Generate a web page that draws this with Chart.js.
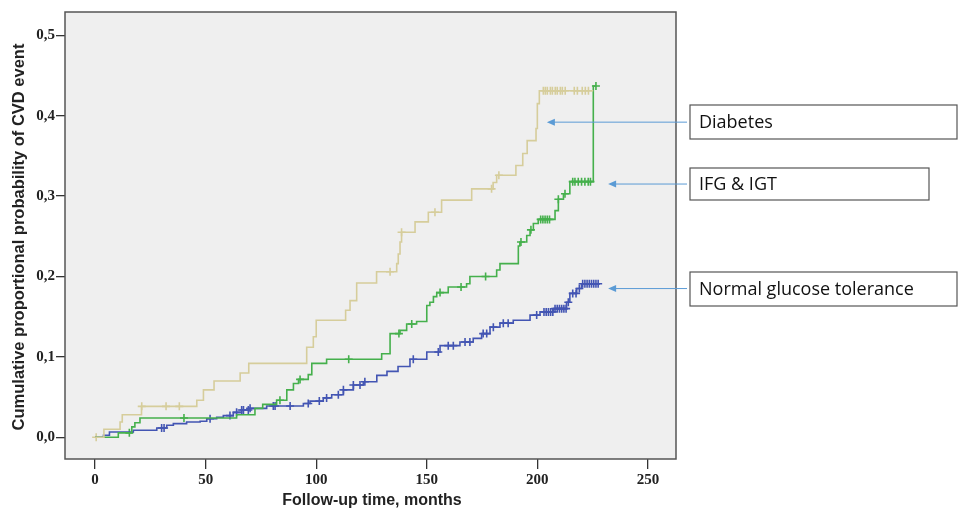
<!DOCTYPE html>
<html>
<head>
<meta charset="utf-8">
<script src="https://cdn.jsdelivr.net/npm/chart.js@4.4.1/dist/chart.umd.min.js"></script>
<style>
  html, body { margin: 0; padding: 0; background: #fff; }
  #wrap { width: 960px; height: 513px; position: relative; }
</style>
</head>
<body>
<div id="wrap"><canvas id="kmChart"></canvas></div>
<script>
// Kaplan-Meier style cumulative incidence
const xTicks = [0, 50, 100, 150, 200, 250];
const yTicks = [0, 0.1, 0.2, 0.3, 0.4, 0.5];

const diabTimes = [0, 4, 11.3, 12.3, 21, 46, 49, 53.8, 65.6, 69.5, 95.7, 98.7, 100, 113.3, 115.3, 118.3, 127.3,
  136.4, 137.1, 137.9, 138.6, 144.7, 150.7, 156.7, 170.3, 180, 181.6, 190.3, 193.4, 195.4, 199.4, 200, 200.9, 225.3];
const diabVals = [0, 0.010, 0.019, 0.028, 0.0385, 0.046, 0.059, 0.070, 0.080, 0.092, 0.112, 0.125, 0.1455, 0.158, 0.170, 0.192, 0.206,
  0.216, 0.228, 0.243, 0.255, 0.268, 0.280, 0.295, 0.309, 0.317, 0.326, 0.338, 0.353, 0.369, 0.384, 0.415, 0.431, 0.431];
const diabCensor = [0.5, 21.1, 32.1, 38.1, 133.4, 138.6, 153.7, 179.3, 182.6, 202.7, 203.6, 204.5, 205.9, 206.8, 208.1,
  209, 210.4, 211.3, 212.6, 216.7, 218.1, 220.3, 221.7, 223.1];

const ifgTimes = [0, 10.5, 16.6, 18, 20.3, 64, 72.3, 75.8, 82.1, 86.7, 89.7, 92, 96.4, 98, 104.7, 129.6, 133.4, 137.9,
  140.9, 145.4, 150, 151.4, 153, 154.5, 159.7, 168, 169.5, 181.6, 183.1, 191.4, 192.1, 195.2, 196.7, 198.2, 200.4,
  208, 209.5, 211.8, 214.7, 225.3, 226.5];
const ifgVals = [0, 0.0055, 0.013, 0.018, 0.024, 0.028, 0.036, 0.041, 0.046, 0.059, 0.067, 0.072, 0.078, 0.092, 0.097, 0.104, 0.129, 0.133,
  0.141, 0.144, 0.164, 0.168, 0.175, 0.180, 0.187, 0.191, 0.200, 0.208, 0.216, 0.238, 0.243, 0.251, 0.258, 0.266, 0.271,
  0.282, 0.296, 0.303, 0.318, 0.437, 0.437];
const ifgCensor = [15.5, 40.2, 83.6, 92.7, 114.7, 137.4, 143.2, 156, 165.5, 176.6, 192.6, 197.1, 201.5, 202.5, 203.5,
  204.5, 205.5, 209.5, 212.5, 216, 217, 218.5, 220, 221.5, 223, 224, 226.5];

const ngtTimes = [0, 3.8, 6.5, 17.3, 27.9, 32.4, 35.4, 41.4, 47.5, 50.5, 55, 58, 62.5, 66.3, 70, 77.6, 94.2, 97.2, 103.2,
  107, 112.3, 116.8, 121.3, 127.4, 132, 137, 142.4, 150, 156, 165, 171, 174.8, 178.6, 183.1, 189.1, 196.7, 201.2,
  207.2, 213.2, 214.7, 217.8, 220, 228.3];
const ngtVals = [0, 0.0025, 0.0066, 0.0087, 0.0116, 0.015, 0.017, 0.019, 0.020, 0.023, 0.025, 0.027, 0.031, 0.034, 0.036, 0.039, 0.042, 0.045, 0.049,
  0.053, 0.059, 0.065, 0.069, 0.077, 0.082, 0.088, 0.097, 0.106, 0.114, 0.1185, 0.123, 0.129, 0.137, 0.142, 0.1455, 0.152, 0.156,
  0.160, 0.168, 0.179, 0.185, 0.191, 0.191];
const ngtCensor = [30.1, 31.2, 52, 61, 64, 66.3, 67.1, 69.3, 70.1, 80.6, 81.4, 88.2, 96.4, 101.4, 104.7, 110, 112.3, 116.8,
  119.8, 122, 143.9, 155.2, 159.7, 162, 167.3, 169.5, 175.5, 177.1, 180.1, 184.6, 186.8, 199.7, 203, 204, 205, 206, 207,
  208, 209, 210, 211, 212, 213, 214, 216, 217.5, 219, 220.5, 221.5, 222.5, 223.5, 224.5, 225.5, 226.5, 227.5];

const groupLabels = ['Diabetes', 'IFG & IGT', 'Normal glucose tolerance'];
// arrow tips in data units (month, probability)
const arrowTips = [[204.3, 0.392], [232, 0.315], [232, 0.185]];

const colTan = '#d6cd9b', colGreen = '#45b04c', colBlue = '#4355b3';

function stepAt(times, vals, t) {
  let v = vals[0];
  for (let i = 0; i < times.length; i++) if (times[i] <= t) v = vals[i];
  return v;
}
function curve(times, vals) { return times.map((t, i) => ({ x: t, y: vals[i] })); }
function marks(times, vals, cens) { return cens.map(t => ({ x: t, y: stepAt(times, vals, t) })); }

function lineSet(data, color) {
  return { data, borderColor: color, borderWidth: 1.6, stepped: true, pointRadius: 0, fill: false };
}
function markSet(data, color) {
  return { data, showLine: false, pointStyle: 'cross', pointRadius: 4, borderColor: color, borderWidth: 1.6, pointHoverRadius: 4 };
}

const frameAndNotes = {
  id: 'frameAndNotes',
  beforeDatasetsDraw(chart) {
    const { ctx, chartArea: a } = chart;
    ctx.save();
    ctx.fillStyle = '#efefef';
    ctx.fillRect(a.left, a.top, a.right - a.left, a.bottom - a.top);
    ctx.restore();
  },
  afterDraw(chart) {
    const { ctx, chartArea: a, scales } = chart;
    ctx.save();
    ctx.strokeStyle = '#555';
    ctx.lineWidth = 1.5;
    ctx.strokeRect(a.left, a.top, a.right - a.left, a.bottom - a.top);

    // axis titles
    ctx.fillStyle = '#222';
    ctx.font = 'bold 16px "Liberation Sans", Arial, sans-serif';
    ctx.textAlign = 'center';
    ctx.textBaseline = 'middle';
    ctx.fillText('Follow-up time, months', 372, 501);
    ctx.translate(19, 237);
    ctx.rotate(-Math.PI / 2);
    ctx.font = 'bold 16.5px "Liberation Sans", Arial, sans-serif';
    ctx.fillText('Cumulative proportional probability of CVD event', 0, 0);
    ctx.restore();

    // label boxes and arrows
    const boxes = [[690, 105, 267, 34], [690, 168, 239, 32], [690, 272, 267, 34]];
    ctx.save();
    boxes.forEach((b, i) => {
      ctx.fillStyle = '#fff';
      ctx.fillRect(b[0], b[1], b[2], b[3]);
      ctx.strokeStyle = '#555';
      ctx.lineWidth = 1.2;
      ctx.strokeRect(b[0], b[1], b[2], b[3]);
      ctx.fillStyle = '#111';
      ctx.font = '18px "Open Sans", "Noto Sans", sans-serif';
      ctx.textAlign = 'left';
      ctx.textBaseline = 'middle';
      ctx.fillText(groupLabels[i], b[0] + 9, b[1] + b[3] / 2 + 1);

      const tipX = scales.x.getPixelForValue(arrowTips[i][0]);
      const tipY = scales.y.getPixelForValue(arrowTips[i][1]);
      ctx.strokeStyle = '#5b9bd5';
      ctx.fillStyle = '#5b9bd5';
      ctx.lineWidth = 1;
      ctx.beginPath();
      ctx.moveTo(b[0] - 3, tipY);
      ctx.lineTo(tipX + 6, tipY);
      ctx.stroke();
      ctx.beginPath();
      ctx.moveTo(tipX, tipY);
      ctx.lineTo(tipX + 8, tipY - 3.5);
      ctx.lineTo(tipX + 8, tipY + 3.5);
      ctx.closePath();
      ctx.fill();
    });
    ctx.restore();
  }
};

const tickFont = { family: '"Liberation Serif", "Times New Roman", serif', size: 15, weight: 'bold' };

new Chart(document.getElementById('kmChart').getContext('2d'), {
  type: 'line',
  data: {
    datasets: [
      lineSet(curve(diabTimes, diabVals), colTan),
      lineSet(curve(ifgTimes, ifgVals), colGreen),
      lineSet(curve(ngtTimes, ngtVals), colBlue),
      markSet(marks(diabTimes, diabVals, diabCensor), colTan),
      markSet(marks(ifgTimes, ifgVals, ifgCensor), colGreen),
      markSet(marks(ngtTimes, ngtVals, ngtCensor), colBlue)
    ]
  },
  options: {
    responsive: true, maintainAspectRatio: false, animation: false,
    layout: { padding: { top: 12, right: 284, left: 0, bottom: 0 } },
    plugins: { legend: { display: false }, tooltip: { enabled: false } },
    scales: {
      x: {
        type: 'linear', min: -13.6, max: 262.7,
        afterBuildTicks: s => { s.ticks = xTicks.map(v => ({ value: v })); },
        afterFit: s => { s.height = 54; },
        grid: { drawOnChartArea: false, drawTicks: true, tickLength: 10, color: '#333', lineWidth: 1.3 },
        border: { display: false },
        ticks: { font: tickFont, color: '#222', padding: 2, maxRotation: 0 }
      },
      y: {
        type: 'linear', min: -0.027, max: 0.529,
        afterBuildTicks: s => { s.ticks = yTicks.map(v => ({ value: v })); },
        afterFit: s => { s.width = 65; },
        grid: { drawOnChartArea: false, drawTicks: true, tickLength: 9, color: '#333', lineWidth: 1.3 },
        border: { display: false },
        ticks: { font: tickFont, color: '#222', padding: 1, callback: v => v.toFixed(1).replace('.', ',') }
      }
    }
  },
  plugins: [frameAndNotes]
});
</script>
</body>
</html>
